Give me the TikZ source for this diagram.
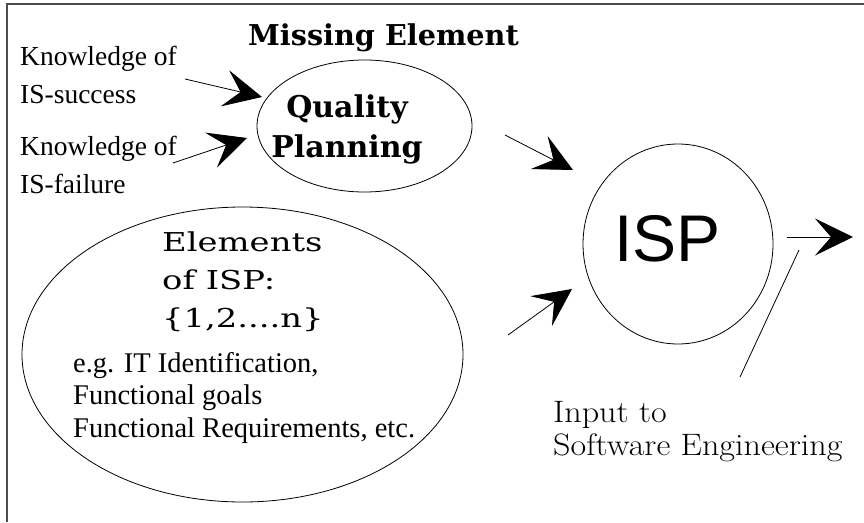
\documentclass[tikz,border=0pt]{standalone}
\usepackage{fontspec}
\newfontfamily\timesfont{Liberation Serif}
\newfontfamily\arialfont{Liberation Sans}
\newfontfamily\widefont{DejaVu Serif}
\usetikzlibrary{positioning, shapes.geometric}
\usetikzlibrary{arrows, arrows.meta}
\tikzset{ bigarrow/.style={-{Stealth[length=38pt,width=37pt,inset=16pt]},
            line width=0.8pt},
          oval/.style={draw, ellipse, line width=0.8pt, inner sep=0pt},
          txt/.style={inner sep=0pt, align=left, anchor=base west}}
\newcommand{\wideline}[1]{\scalebox{1.3}[1]{#1}}
\newcommand{\softline}[1]{\scalebox{1.1}[1]{#1}}

\begin{document}
\begin{tikzpicture}[x=1pt,y=-1pt]
\useasboundingbox (0,0) rectangle (864,522);
\draw[gray!60!black, line width=2pt] (7,522) -- (7,4) -- (864,4);

% the three ovals
\node[oval, minimum width=215pt, minimum height=132pt] (qp) at (364.5,126) {};
\node[oval, minimum width=441pt, minimum height=295pt] (elem) at (242.5,354.5) {};
\node[oval, minimum width=190pt, minimum height=200pt] (isp) at (678,244) {};

% texts (base = last line)
\node[txt, font=\widefont\bfseries\fontsize{28.7}{28.7}\selectfont] (miss)
  at (248,45) {Missing Element};
\node[txt, font=\timesfont\fontsize{27.5}{38}\selectfont] (ksucc) at (20,103)
  {Knowledge of\\IS-success};
\node[txt, font=\timesfont\fontsize{27.5}{38}\selectfont] (kfail) at (20,193)
  {Knowledge of\\IS-failure};
\node[inner sep=0pt, align=center, anchor=base,
  font=\widefont\bfseries\fontsize{30}{40}\selectfont] (qptxt) at (347,157)
  {Quality\\Planning};
\node[txt, font=\widefont\fontsize{26}{38}\selectfont] (eltitle) at (162,327)
  {\wideline{Elements}\\\wideline{of ISP:}\\\wideline{\{1,2....n\}}};
\node[txt, font=\timesfont\fontsize{28.5}{32.5}\selectfont] (eltxt) at (73,437)
  {e.g. IT Identification,\\Functional goals\\Functional Requirements, etc.};
\node[inner sep=0pt, font=\arialfont\fontsize{66}{66}\selectfont] (isptxt)
  at (667.5,239) {ISP};
\node[txt, font=\fontsize{31}{33}\selectfont] (input) at (553,455)
  {\softline{Input to}\\\softline{Software Engineering}};

% arrow ends
\coordinate (k1) at (185,79);   \coordinate (q1) at (262,97);
\coordinate (k2) at (173,163);  \coordinate (q2) at (247,138);
\coordinate (q3) at (505,135);  \coordinate (i1) at (573,170);
\coordinate (e1) at (508,335);  \coordinate (i2) at (572,289);
\coordinate (i3) at (787,237);  \coordinate (out) at (853,237);
\coordinate (sw1) at (799,250); \coordinate (sw2) at (740,377);

\foreach \s/\t in {k1/q1, k2/q2, q3/i1, e1/i2, i3/out}
  \draw[bigarrow] (\s) -- (\t);
\draw[line width=0.8pt] (sw1) -- (sw2); %to software engineering

\end{tikzpicture}
\end{document}
